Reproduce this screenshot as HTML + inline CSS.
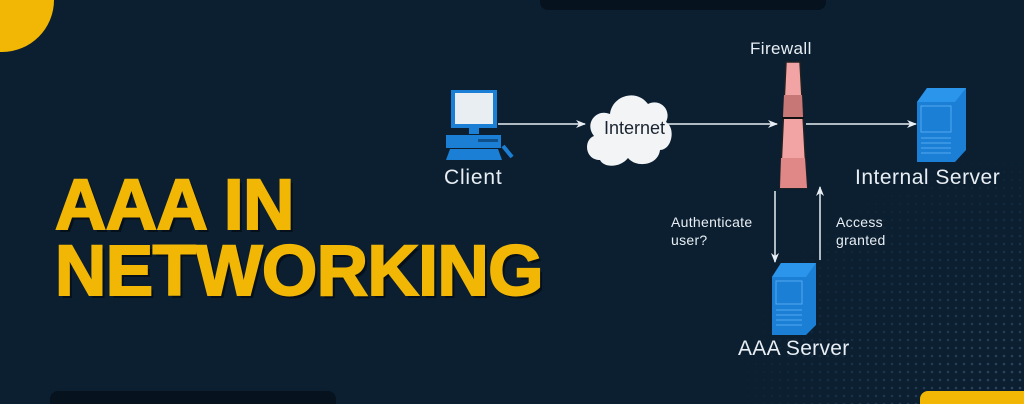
<!DOCTYPE html>
<html><head><meta charset="utf-8"><style>
html,body{margin:0;padding:0}
body{width:1024px;height:404px;overflow:hidden;position:relative;background:#0b1f31;font-family:"Liberation Sans",sans-serif}
.t{position:absolute;color:#f2b705;font-weight:bold;font-size:71px;letter-spacing:-0.5px;left:55px;line-height:1;-webkit-text-stroke:2px #f2b705;text-shadow:3px 3px 0 #05101a}
.l{position:absolute;color:#e8eef3;white-space:nowrap}
</style></head><body>
<svg width="1024" height="404" style="position:absolute;left:0;top:0">
<defs>
<pattern id="dots" width="8" height="8" patternUnits="userSpaceOnUse"><circle cx="4" cy="4" r="1.3" fill="#3a5670"/></pattern>
<radialGradient id="fade" cx="1" cy="1" r="0.9"><stop offset="0" stop-color="#fff"/><stop offset="1" stop-color="#000"/></radialGradient>
<mask id="m"><rect x="700" y="120" width="324" height="284" fill="url(#fade)"/></mask>
<marker id="a" markerWidth="10" markerHeight="10" refX="9" refY="5" orient="auto" markerUnits="userSpaceOnUse"><path d="M0,1 L10,5 L0,9 L3,5z" fill="#e8eef3"/></marker>
</defs>
<rect x="700" y="120" width="324" height="284" fill="url(#dots)" mask="url(#m)" opacity="0.8"/>
<circle cx="2" cy="0" r="52" fill="#f2b705"/>
<rect x="540" y="-10" width="286" height="20" rx="8" fill="#06121d"/>
<rect x="50" y="391" width="286" height="30" rx="8" fill="#06121d"/>
<rect x="920" y="391" width="120" height="30" rx="8" fill="#f2b705"/>
<rect x="451" y="90" width="46" height="38" fill="#1c7fd6"/>
<rect x="455" y="93" width="38" height="31" fill="#e9eef2"/>
<rect x="469" y="128" width="10" height="6" fill="#1c7fd6"/>
<rect x="446" y="135" width="55" height="13" fill="#1c7fd6"/>
<rect x="478" y="139" width="20" height="3" fill="#0f4f8a"/>
<path d="M450,149 L498,149 L502,160 L446,160z" fill="#1c7fd6"/>
<path d="M503,146 L512,157" stroke="#1c7fd6" stroke-width="4"/>
<g stroke="#e8eef3" stroke-width="1.5" fill="none">
<line x1="498" y1="124" x2="585" y2="124" marker-end="url(#a)"/>
<line x1="668" y1="124" x2="777" y2="124" marker-end="url(#a)"/>
<line x1="806" y1="124" x2="916" y2="124" marker-end="url(#a)"/>
<line x1="775" y1="191" x2="775" y2="262" marker-end="url(#a)"/>
<line x1="820" y1="260" x2="820" y2="187" marker-end="url(#a)"/>
</g>
<path d="M600,160 C585,160 583,140 594,136 C584,124 596,108 610,114 C612,96 636,88 648,104 C660,98 672,110 666,122 C676,128 672,150 660,150 C658,166 636,168 628,158 C620,168 604,168 600,160z" fill="#f2f4f6"/>
<path d="M786,62 L800,62 L807,188 L780,188z" fill="#f2a3a3" stroke="#222" stroke-width="1.5"/>
<path d="M784,95 L802,95 L803,117 L783,117z" fill="#c87777"/>
<line x1="782" y1="118" x2="804" y2="118" stroke="#111" stroke-width="2"/>
<path d="M781,158 L805,158 L807,188 L780,188z" fill="#e08888"/>
<path d="M917,102 L927,88 L966,88 L966,150 L955,162 L917,162z" fill="#1c7fd6"/>
<path d="M917,102 L927,88 L966,88 L955,102z" fill="#2a95ea"/>
<rect x="921" y="106" width="30" height="26" fill="none" stroke="#52a8ee" stroke-width="1"/>
<g stroke="#52a8ee" stroke-width="1"><line x1="921" y1="138" x2="951" y2="138"/><line x1="921" y1="143" x2="951" y2="143"/><line x1="921" y1="148" x2="951" y2="148"/><line x1="921" y1="153" x2="951" y2="153"/></g>
<path d="M772,277 L781,263 L816,263 L816,325 L806,335 L772,335z" fill="#1c7fd6"/>
<path d="M772,277 L781,263 L816,263 L806,277z" fill="#2a95ea"/>
<rect x="776" y="281" width="26" height="23" fill="none" stroke="#52a8ee" stroke-width="1"/>
<g stroke="#52a8ee" stroke-width="1"><line x1="776" y1="310" x2="802" y2="310"/><line x1="776" y1="315" x2="802" y2="315"/><line x1="776" y1="320" x2="802" y2="320"/><line x1="776" y1="325" x2="802" y2="325"/></g>
</svg>
<div class="t" style="top:170px">AAA IN</div>
<div class="t" style="top:236px">NETWORKING</div>
<div class="l" style="left:750px;top:39px;font-size:17px;letter-spacing:0.4px">Firewall</div>
<div class="l" style="left:604px;top:118px;font-size:18px;color:#1a2430">Internet</div>
<div class="l" style="left:444px;top:166px;font-size:21px;letter-spacing:0.8px">Client</div>
<div class="l" style="left:855px;top:166px;font-size:21px;letter-spacing:0.5px">Internal Server</div>
<div class="l" style="left:671px;top:213px;font-size:14px;line-height:18px;letter-spacing:0.3px">Authenticate<br>user?</div>
<div class="l" style="left:836px;top:213px;font-size:14px;line-height:18px;letter-spacing:0.3px">Access<br>granted</div>
<div class="l" style="left:738px;top:337px;font-size:21px;letter-spacing:0.3px">AAA Server</div>
</body></html>
